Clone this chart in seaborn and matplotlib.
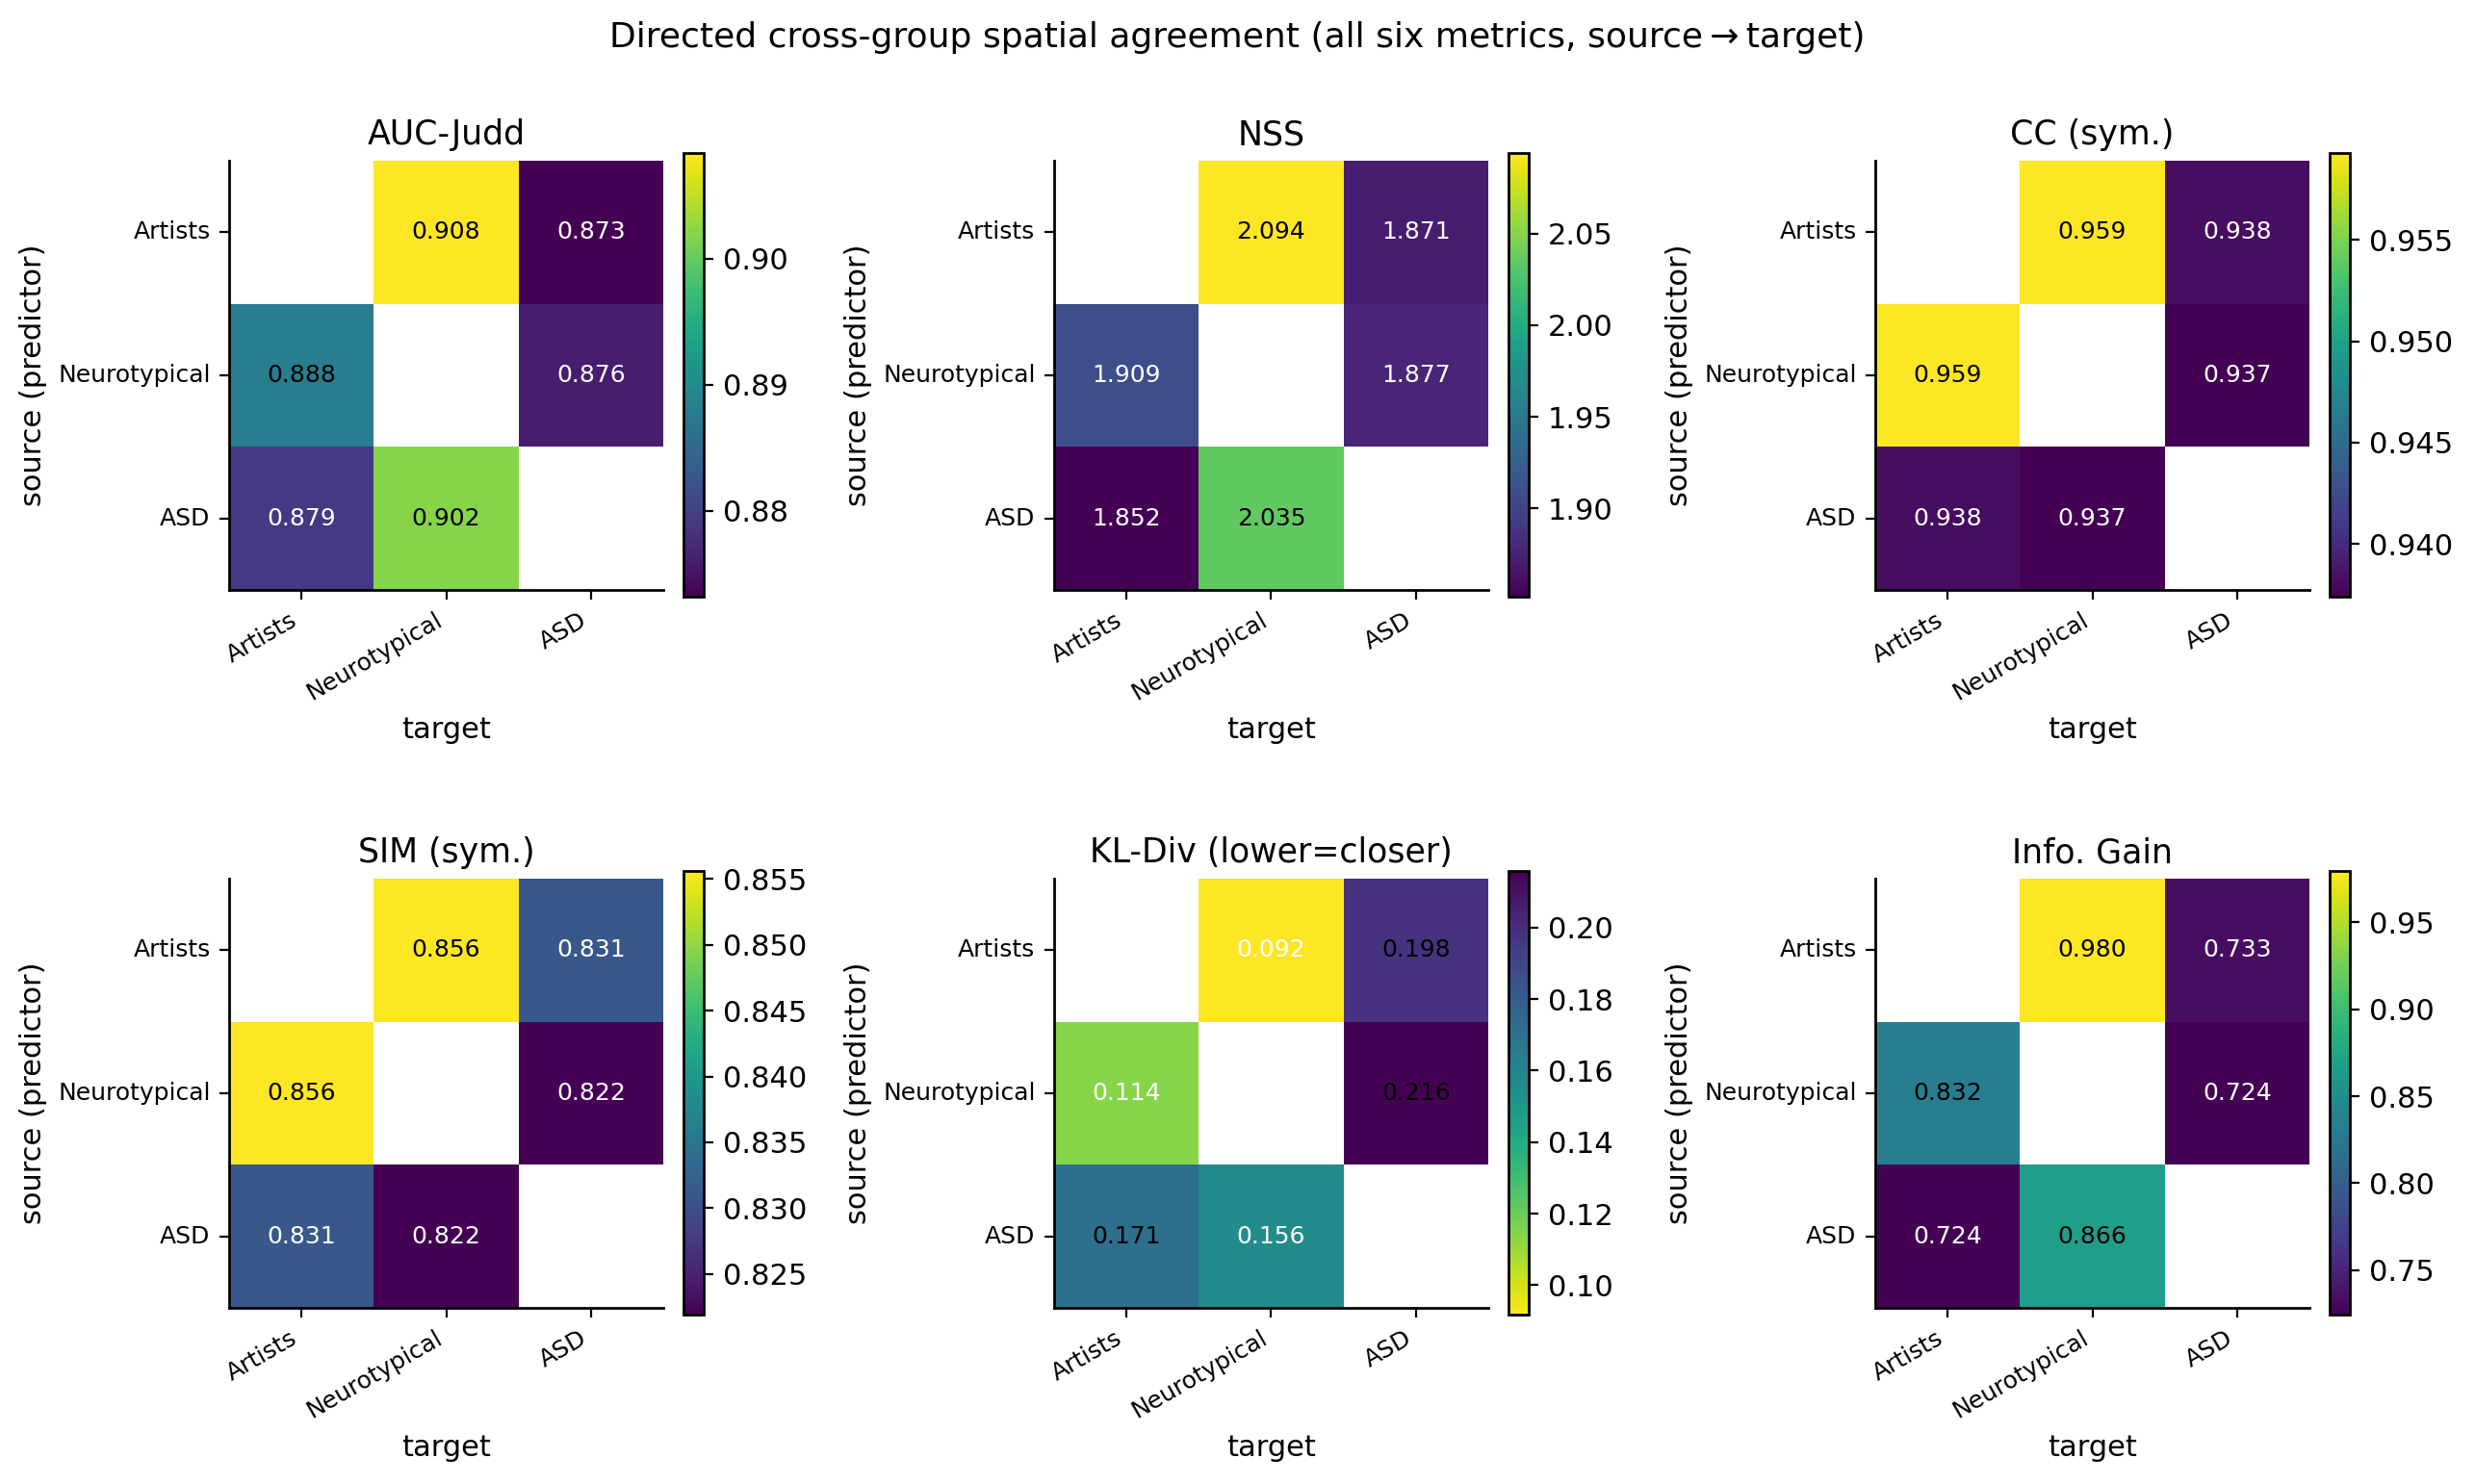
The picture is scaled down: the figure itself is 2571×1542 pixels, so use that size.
import numpy as np
import seaborn as sns
import matplotlib.pyplot as plt

# groups in row (source) / column (target) order
groups = ["Artists", "Neurotypical", "ASD"]
nan = np.nan

auc_judd = [[nan, 0.9084, 0.8732],
            [0.888, nan, 0.876],
            [0.879, 0.902, nan]]
nss = [[nan, 2.094, 1.871],
       [1.909, nan, 1.877],
       [1.852, 2.035, nan]]
cc_sym = [[nan, 0.9593, 0.9381],
          [0.9593, nan, 0.9374],
          [0.9381, 0.9374, nan]]
sim_sym = [[nan, 0.8556, 0.831],
           [0.8556, nan, 0.8219],
           [0.831, 0.8219, nan]]
kl_div = [[nan, 0.0917, 0.198],
          [0.114, nan, 0.2158],
          [0.171, 0.156, nan]]
info_gain = [[nan, 0.9795, 0.733],
             [0.832, nan, 0.7243],
             [0.7243, 0.866, nan]]

titles = ["AUC-Judd", "NSS", "CC (sym.)", "SIM (sym.)", "KL-Div (lower=closer)", "Info. Gain"]
matrices = [auc_judd, nss, cc_sym, sim_sym, kl_div, info_gain]
cmaps = ["viridis", "viridis", "viridis", "viridis", "viridis_r", "viridis"]

fig = plt.figure(figsize=(2571 / 200, 1542 / 200), dpi=200)
fig.suptitle("Directed cross-group spatial agreement (all six metrics, source\u2009\u2192\u2009target)",
             fontsize=13, y=0.986)

lefts = [0.0926, 0.4259, 0.7577]
bottoms = [0.6025, 0.1187]
cb_bottoms = [0.598, 0.114]
w, h = 0.1754, 0.2892

for k, (title, mat, cmap) in enumerate(zip(titles, matrices, cmaps)):
    r, c = divmod(k, 3)
    ax = fig.add_axes([lefts[c], bottoms[r], w, h])
    cax = fig.add_axes([lefts[c] + 0.1836, cb_bottoms[r], 0.0082, 0.299])
    data = np.array(mat, dtype=float)
    mask = np.isnan(data)
    sns.heatmap(data, mask=mask, cmap=cmap, annot=True, fmt=".3f",
                annot_kws={"size": 9}, ax=ax, cbar_ax=cax,
                xticklabels=groups, yticklabels=groups)
    # text colour: black above the mean of the off-diagonal values, white below
    thr = np.nanmean(data)
    for t in ax.texts:
        t.set_color("black" if float(t.get_text()) > thr else "white")
    ax.set_title(title, fontsize=12.5)
    ax.set_xlabel("target", fontsize=11)
    ax.set_ylabel("source (predictor)", fontsize=11)
    ax.tick_params(labelsize=9)
    ax.set_xticklabels(groups, rotation=30, ha="right")
    ax.set_yticklabels(groups, rotation=0)
    for side in ["left", "bottom"]:
        ax.spines[side].set_visible(True)
        ax.spines[side].set_linewidth(1.0)
    cbar = ax.collections[0].colorbar
    cbar.outline.set_visible(True)
    cbar.outline.set_linewidth(1.0)
    cbar.ax.tick_params(labelsize=11)
    cbar.update_ticks()

fig.savefig("out.png", dpi=200)
